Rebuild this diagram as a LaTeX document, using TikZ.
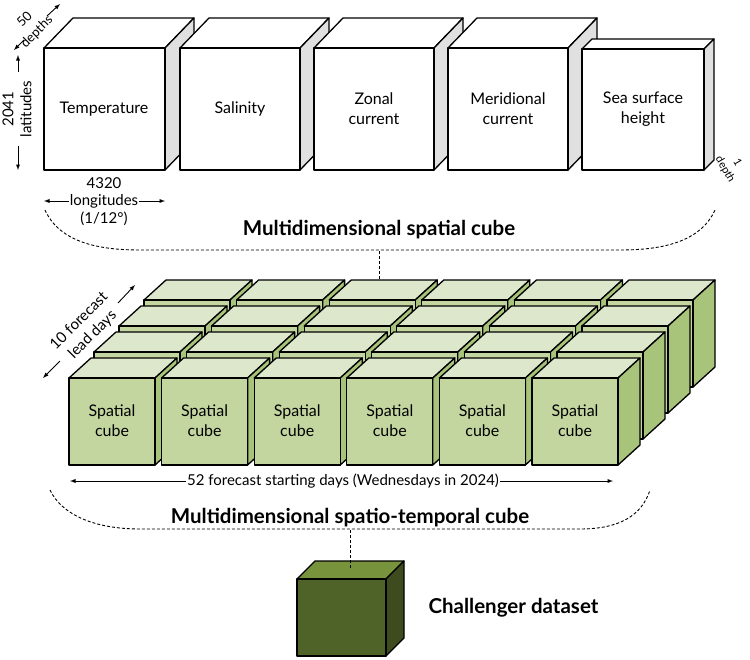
\documentclass[tikz,border=0pt]{standalone}
\usepackage{fontspec}
\setmainfont{Lato}
\usepackage{tikz}
\usetikzlibrary{arrows}

\definecolor{gfront}{HTML}{C4D6A0}
\definecolor{gtop}{HTML}{DDE7CB}
\definecolor{gside}{HTML}{A8C47A}
\definecolor{dfront}{HTML}{4F6228}
\definecolor{dtop}{HTML}{77933C}
\definecolor{dside}{HTML}{3D4B1E}
\definecolor{wside}{HTML}{E0E0E0}

% cube: x, y (front top-left), width, height, dx, dy, front, top, side
\newcommand{\drawcube}[9]{%
  \draw[cube edge, fill=#8] (#1,#2) -- ++(#5,#6) -- ++(#3,0) -- ++(-#5,-#6) -- cycle;
  \draw[cube edge, fill=#9] (#1+#3,#2) -- ++(#5,#6) -- ++(0,#4) -- ++(-#5,-#6) -- cycle;
  \draw[cube edge, fill=#7] (#1,#2) rectangle ++(#3,#4);
}

\tikzset{
  cube edge/.style = {line width=1.3pt, line join=round},
  label/.style = {font=\fontsize{16}{20}\selectfont, align=center},
  small/.style = {font=\fontsize{15}{17}\selectfont, align=center, inner sep=1pt},
  title/.style = {font=\fontsize{20.5}{24}\selectfont\bfseries},
  dim/.style = {line width=0.9pt, >=latex},
  brace/.style = {dashed, dash pattern=on 3pt off 2pt, line width=0.9pt},
  link/.style = {densely dashed, line width=0.9pt}
}

\begin{document}
\begin{tikzpicture}[x=1pt, y=-1pt]
      \useasboundingbox (0,0) rectangle (750,659);
      % spatial cube
      \drawcube{44}{48}{121}{122}{29}{-30}{white}{white}{wside}
      \drawcube{180}{48}{120}{122}{29}{-30}{white}{white}{wside}
      \drawcube{314}{48}{120}{122}{29}{-30}{white}{white}{wside}
      \drawcube{448}{48}{120}{122}{29}{-30}{white}{white}{wside}
      \drawcube{582}{49}{122}{121}{10}{-10}{white}{white}{wside}
      \node[label] (temp) at (104,109) {Temperature};
      \node[label] (sal) at (240,109) {Salinity};
      \node[label] (zonal) at (374,109) {Zonal\\current};
      \node[label] (merid) at (508,109) {Meridional\\current};
      \node[label] (ssh) at (643,109) {Sea surface\\height};
      % dimensions
      \node[small, font=\fontsize{13}{15}\selectfont, rotate=45] (depths) at (31,26) {50\\[2pt]depths};
      \draw[dim, ->] (47,16) -- (60,4);
      \draw[dim, ->] (24,40) -- (14,50);
      \node[small, rotate=90] (lat) at (17,109) {2041\\[1pt]latitudes};
      \draw[dim, ->] (18,72) -- (18,55);
      \draw[dim, ->] (18,146) -- (18,170);
      \node[small] (lon) at (104,201) {longitudes};
      \node[small] at (104,183) {4320};
      \node[small] at (104,219) {(1/12°)};
      \draw[dim, ->] (lon.west) -- (44,201);
      \draw[dim, ->] (lon.east) -- (165,201);
      \node[font=\fontsize{11}{12}\selectfont, align=center, rotate=-60, inner sep=0pt] (onedepth) at (731,166) {1\\[2pt]depth};
      % brace 1
      \draw[brace] (45,210) .. controls (60,243) and (100,250) .. (140,250) -- (620,250) .. controls (660,250) and (700,243) .. (715,210);
      \node[title] (spatial) at (379,230) {Multidimensional spatial cube};
      \coordinate (grid) at (379,285);
      \draw[link] (379,251) -- (grid);
      % spatio-temporal cube
      \foreach \r in {3,2,1,0} {
        \foreach \c in {0,...,5} {
          \drawcube{69+92.6*\c+25*\r}{378-26*\r}{86}{87}{22}{-20}{gfront}{gtop}{gside}
        }
      }
      \foreach \c in {0,...,5} {
        \node[label] (sc\c) at (112+92.6*\c,421) {Spatial\\cube};
      }
      \node[small, rotate=45] (lead) at (86,328) {10 forecast\\[2pt]lead days};
      \draw[dim, ->] (118,303) -- (135,285);
      \draw[dim, ->] (60,361) -- (43,378);
      \node[small, fill=white, inner sep=1pt] (start) at (343,481) {52 forecast starting days (Wednesdays in 2024)};
      \draw[dim, ->] (start.west) -- (70,481);
      \draw[dim, ->] (start.east) -- (613,481);
      % brace 2
      \draw[brace] (50,490) .. controls (62,515) and (95,529) .. (140,529) -- (580,529) .. controls (620,529) and (642,515) .. (650,490);
      \node[title] (temporal) at (350,518) {Multidimensional spatio-temporal cube};
      % dataset
      \drawcube{297}{579}{89}{77}{18}{-18}{dfront}{dtop}{dside}
      \coordinate (data) at (350,569);
      \draw[link] (350,530) -- (data);
      \node[title, anchor=west] (challenger) at (425,608) {Challenger dataset};
\end{tikzpicture}
\end{document}
